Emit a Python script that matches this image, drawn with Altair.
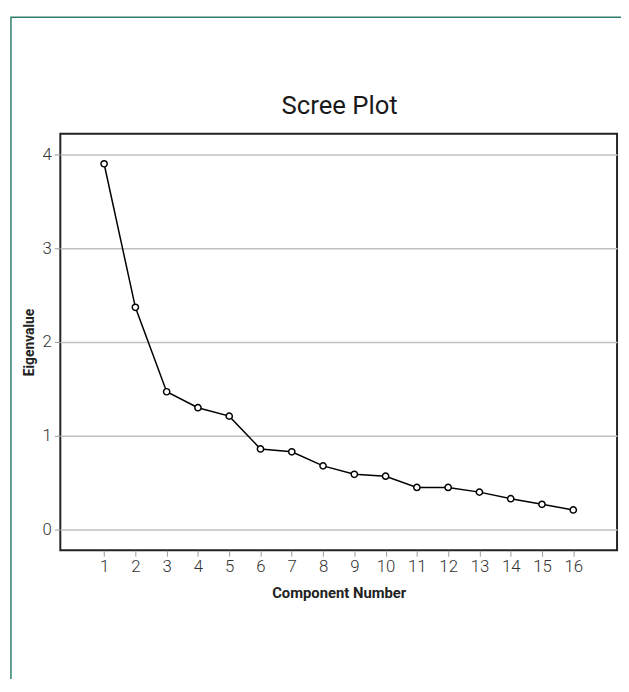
import altair as alt
import pandas as pd

components = list(range(1, 17))
eigenvalues = [3.90, 2.37, 1.47, 1.30, 1.21, 0.86, 0.83, 0.68,
               0.59, 0.57, 0.45, 0.45, 0.40, 0.33, 0.27, 0.21]
x_ticks = list(range(1, 17))
y_ticks = [0, 1, 2, 3, 4]
chart_title = "Scree Plot"

df = pd.DataFrame({"Component": components, "Eigenvalue": eigenvalues})

FONT = "'Liberation Sans Narrow', Roboto, sans-serif"

x_enc = alt.X(
    "Component:Q",
    scale=alt.Scale(domain=[-0.4, 17.4], nice=False, zero=False),
    axis=alt.Axis(
        title="Component Number", values=x_ticks, grid=False, domain=False,
        tickSize=6, tickColor="#999999", tickWidth=1, labelOverlap=False,
        labelFont=FONT, labelFontSize=17, labelFontWeight=300,
        labelColor="#333333", labelPadding=2,
        titleFont=FONT, titleFontSize=15, titleFontWeight="bold",
        titleColor="#222222", titlePadding=12, format="d",
    ),
)
y_enc = alt.Y(
    "Eigenvalue:Q",
    scale=alt.Scale(domain=[-0.22, 4.22], nice=False, zero=False),
    axis=alt.Axis(
        title="Eigenvalue", values=y_ticks, grid=True, domain=False,
        gridColor="#c0c0c0", gridWidth=1.5, labelOverlap=False,
        tickSize=6, tickColor="#999999", tickWidth=1,
        labelFont=FONT, labelFontSize=17, labelFontWeight=300,
        labelColor="#333333", labelPadding=3,
        titleFont=FONT, titleFontSize=14, titleFontWeight="bold",
        titleColor="#222222", titlePadding=6, format="d",
    ),
)

base = alt.Chart(df).encode(x=x_enc, y=y_enc)
line = base.mark_line(color="black", strokeWidth=1.5)
pts = base.mark_point(
    shape="circle", filled=False, color="black", fill="white", fillOpacity=1,
    size=40, strokeWidth=1.5, opacity=1,
)

one = pd.DataFrame({"label": [chart_title]})

border = alt.Chart(one).mark_rect(
    fill=None, fillOpacity=0, stroke="#2f7f6f", strokeWidth=1.5
).encode(
    x=alt.value(-50), x2=alt.value(900), y=alt.value(-118), y2=alt.value(900)
)

title_txt = alt.Chart(one).mark_text(
    font=FONT, fontSize=26, fontWeight="normal", color="#1a1a1a",
    align="center", baseline="alphabetic",
).encode(text="label:N", x=alt.value(283), y=alt.value(-20))

chart = alt.layer(line, pts, border, title_txt).properties(
    width=564,
    height=422,
    padding={"left": 53, "top": 123, "right": 4, "bottom": 126},
    autosize=alt.AutoSizeParams(type="none"),
    background="white",
).configure_view(
    stroke="#222222", strokeWidth=2
).configure_axis(
    labelOverlap=False, labelFlush=False, labelBound=False
)

chart.save("out.html", embed_options={"renderer": "svg", "actions": False})
